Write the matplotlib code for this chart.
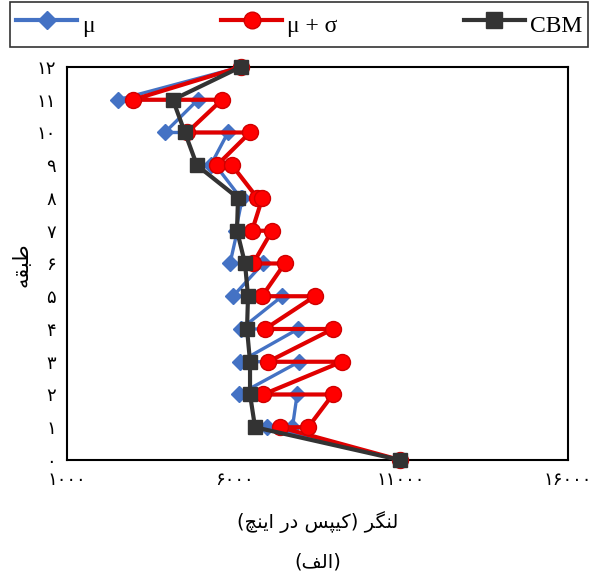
import matplotlib
matplotlib.use("Agg")
import matplotlib.pyplot as plt
from matplotlib.lines import Line2D

# floors along each path: top point, two points per storey, base point
floors = [12, 11, 11, 10, 10, 9, 9, 8, 8, 7, 7, 6, 6, 5, 5, 4, 4, 3, 3, 2, 2, 1, 1, 0]

mu = [6200, 2530, 4920, 3930, 5820, 5300, 5450, 6200, 6250, 6050, 6100,
      5880, 6870, 5970, 7440, 6210, 7920, 6180, 7950, 6150, 7890, 7750, 6990, 10970]

mu_sigma = [6200, 2980, 5640, 4600, 6480, 5490, 5940, 6700, 6850, 6540, 7140,
            6570, 7520, 6840, 8420, 6930, 8960, 7020, 9230, 6870, 8960, 8220, 7380, 10970]

cbm_floors = [12, 11, 10, 9, 8, 7, 6, 5, 4, 3, 2, 1, 0]
cbm = [6200, 4170, 4530, 4890, 6120, 6090, 6330, 6420, 6390, 6480, 6480, 6630, 10970]

fa_digits = "۰۱۲۳۴۵۶۷۸۹"
def to_fa(n):
    return "".join(fa_digits[int(c)] for c in str(n))

x_ticks = [1000, 6000, 11000, 16000]
y_ticks = list(range(13))

# Persian labels in visual order with presentation forms
xlabel = "(\uFB7B\uFEE8\uFBFE\uFE8D \uFEAD\uFEA9 \uFEB2\uFB59\uFBFF\uFB90) \uFEAE\uFB95\uFEE8\uFEDF"
ylabel = "\uFEEA\uFED8\uFE92\uFEC3"
caption = "(\uFED2\uFEDF\uFE8D)"

blue = "#4472C4"
red = "#E00000"
dark = "#333333"

fig = plt.figure(figsize=(5.94, 5.76), dpi=100)
ax = fig.add_axes([0.1128, 0.2014, 0.8434, 0.6823])

ax.plot(mu, floors, color=blue, lw=2.4, marker="D", ms=8,
        mfc=blue, mec=blue, clip_on=False, zorder=3)
ax.plot(mu_sigma, floors, color=red, lw=3, marker="o", ms=11.5,
        mfc="#FF0000", mec="#D00000", clip_on=False, zorder=4)
ax.plot(cbm, cbm_floors, color=dark, lw=3, marker="s", ms=10,
        mfc=dark, mec=dark, clip_on=False, zorder=5)

ax.set_xlim(1000, 16000)
ax.set_ylim(0, 12)
ax.set_xticks(x_ticks)
ax.set_xticklabels([to_fa(v) for v in x_ticks], fontsize=13, family="DejaVu Sans")
ax.set_yticks(y_ticks)
ax.set_yticklabels([to_fa(v) for v in y_ticks], fontsize=13, family="DejaVu Sans")
ax.tick_params(length=0, pad=8)
for s in ax.spines.values():
    s.set_linewidth(1.5)
    s.set_color("black")

fig.text(0.535, 0.093, xlabel, ha="center", va="center", fontsize=14, family="DejaVu Sans")
fig.text(0.535, 0.024, caption, ha="center", va="center", fontsize=14, family="DejaVu Sans")
fig.text(0.037, 0.54, ylabel, ha="center", va="center", rotation=90, fontsize=15,
         family="DejaVu Sans")

handles = [
    Line2D([], [], color=blue, lw=3, marker="D", ms=9, mfc=blue, mec=blue),
    Line2D([], [], color=red, lw=3, marker="o", ms=12, mfc="#FF0000", mec="#D00000"),
    Line2D([], [], color=dark, lw=3, marker="s", ms=11, mfc=dark, mec=dark),
]
labels = ["μ", "μ + σ", "CBM"]
leg = fig.legend(handles, labels, loc="upper left", ncol=3, mode="expand",
                 bbox_to_anchor=(0.0168, 0.9965, 0.973, 0.0), frameon=True,
                 fancybox=False, handlelength=2.6, handletextpad=0.2,
                 handleheight=1.8, borderpad=0.25, borderaxespad=0,
                 prop={"family": "Liberation Serif", "size": 17})
leg.get_frame().set_edgecolor("black")
leg.get_frame().set_linewidth(1.2)

fig.savefig("out.png", dpi=100)
